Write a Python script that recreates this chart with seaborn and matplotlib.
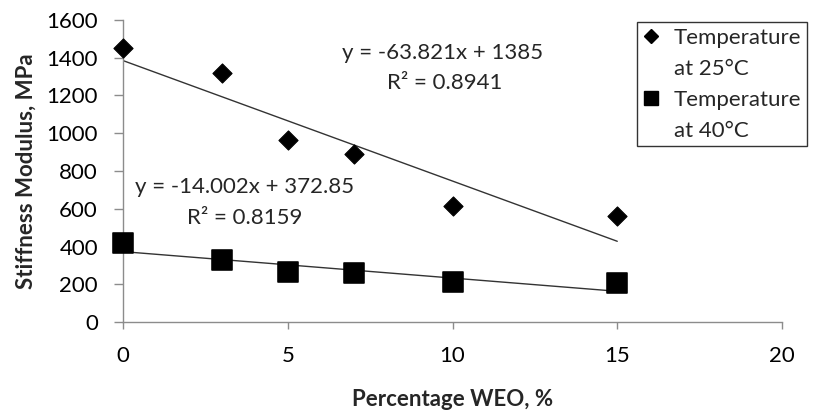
import numpy as np
import pandas as pd
import matplotlib
matplotlib.use("Agg")
import matplotlib.pyplot as plt
import seaborn as sns

# Data
weo = [0, 3, 5, 7, 10, 15]
modulus_25 = [1450, 1320, 965, 890, 615, 562]
modulus_40 = [420, 328, 265, 262, 212, 205]

# Excel trendline coefficients shown on the chart
slope_25, intercept_25, r2_25 = -63.821, 1385, 0.8941
slope_40, intercept_40, r2_40 = -14.002, 372.85, 0.8159

series = ["25°C", "40°C"]

sns.set_theme(style="white")
plt.rcParams['font.family'] = ['Lato', 'DejaVu Sans']

df = pd.DataFrame({
    'WEO': weo * 2,
    'Modulus': modulus_25 + modulus_40,
    'Temp': [series[0]] * len(weo) + [series[1]] * len(weo),
})

fig = plt.figure(figsize=(8.14, 4.12), dpi=100)
ax = fig.add_axes([0.1511, 0.2184, 0.8096, 0.7331])

axis_grey = '#8c8c8c'
fs = 16

# trendlines over the data range
xfit = np.array([min(weo), max(weo)])
ax.plot(xfit, slope_25 * xfit + intercept_25, color='#333333', lw=1.0, zorder=2)
ax.plot(xfit, slope_40 * xfit + intercept_40, color='#333333', lw=1.0, zorder=2)

sns.scatterplot(data=df[df['Temp'] == series[0]], x='WEO', y='Modulus',
                marker='D', s=95, color='black', edgecolor='black',
                ax=ax, clip_on=False, zorder=3, legend=False)
sns.scatterplot(data=df[df['Temp'] == series[1]], x='WEO', y='Modulus',
                marker='s', s=210, color='black', edgecolor='black',
                ax=ax, clip_on=False, zorder=3, legend=False)

ax.set_xlim(0, 20)
ax.set_ylim(0, 1600)
ax.set_xticks(range(0, 21, 5))
ax.set_yticks(range(0, 1601, 200))

for side in ['top', 'right']:
    ax.spines[side].set_visible(False)
for side in ['left', 'bottom']:
    ax.spines[side].set_color(axis_grey)
    ax.spines[side].set_linewidth(1.0)
ax.tick_params(axis='x', direction='out', length=5, width=1.0, color=axis_grey,
               labelsize=fs, labelcolor='black', pad=12.5)
ax.tick_params(axis='y', direction='out', length=6.5, width=1.0, color=axis_grey,
               labelsize=fs, labelcolor='black', pad=11.5)
ax.xaxis.set_ticks_position('bottom')
ax.yaxis.set_ticks_position('left')

ax.set_xlabel('Percentage WEO, %', fontsize=fs, fontweight='bold', labelpad=16)
ax.set_ylabel('Stiffness Modulus, MPa', fontsize=fs, fontweight='bold', labelpad=7)

ax.text(9.71, 1425, f'y = {slope_25}x + {intercept_25}', fontsize=fs,
        ha='center', va='center')
ax.text(9.76, 1265, f'R² = {r2_25}', fontsize=fs, ha='center', va='center')
ax.text(3.7, 715, f'y = {slope_40}x + {intercept_40}', fontsize=fs,
        ha='center', va='center')
ax.text(3.7, 551, f'R² = {r2_40}', fontsize=fs, ha='center', va='center')

# legend: marker on the first line, "at ..." on a second line
h25 = plt.Line2D([], [], ls='none', marker='D', ms=7, color='black')
h40 = plt.Line2D([], [], ls='none', marker='s', ms=10.5, color='black')
blank = plt.Line2D([], [], ls='none')
leg = ax.legend([h25, blank, h40, blank],
                ['Temperature', f'at {series[0]}', 'Temperature', f'at {series[1]}'],
                loc='upper left', bbox_to_anchor=(637 / 814, 1 - 22 / 412),
                bbox_transform=fig.transFigure, borderaxespad=0,
                frameon=True, fancybox=False, fontsize=fs,
                handlelength=0.8, handletextpad=0.6, labelspacing=0.5,
                borderpad=0.25)
leg.get_frame().set_edgecolor('black')
leg.get_frame().set_linewidth(1.0)

fig.savefig('out.png', dpi=100)
